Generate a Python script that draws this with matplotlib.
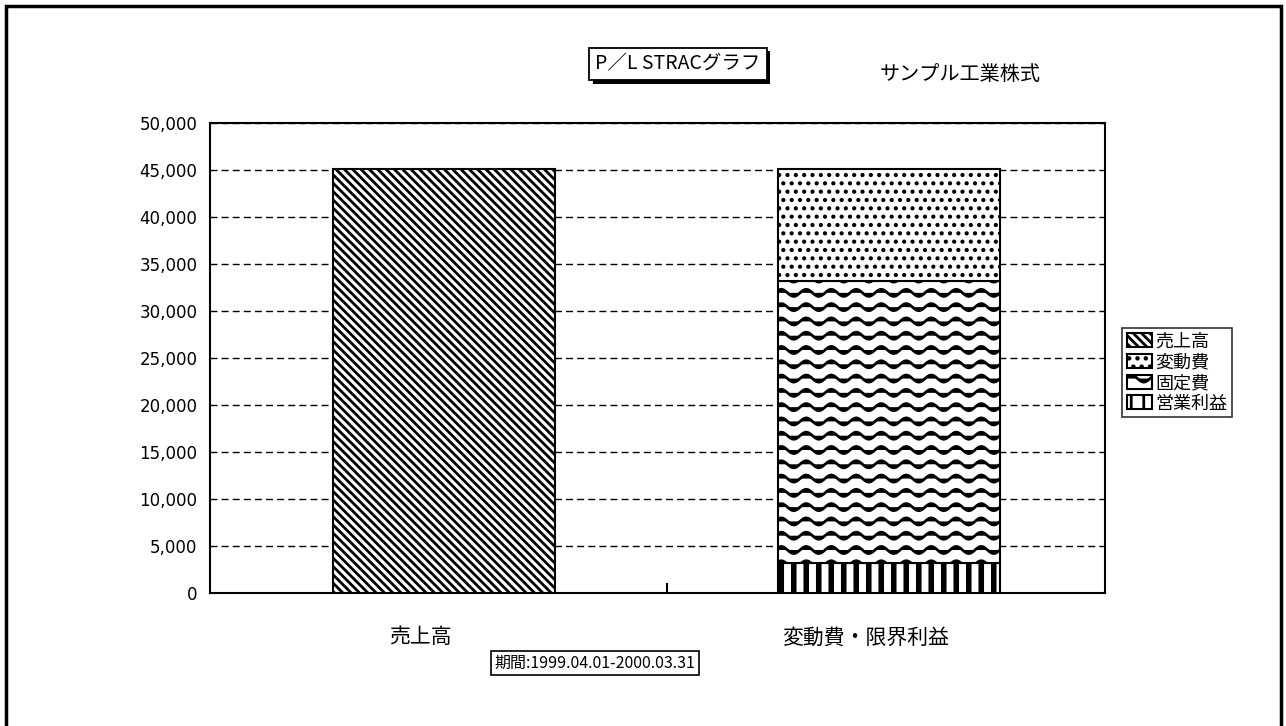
import warnings
import numpy as np
import matplotlib
matplotlib.use("Agg")
import matplotlib.pyplot as plt
import matplotlib.hatch as mhatch
import matplotlib.patheffects as pe
from matplotlib.path import Path
from matplotlib.patches import Rectangle
from matplotlib.ticker import FuncFormatter, MultipleLocator, FixedLocator
from matplotlib.transforms import ScaledTranslation

warnings.filterwarnings("ignore")

# data
categories = ['売上高', '変動費・限界利益']
sales = 45100
variable_cost = 11900
fixed_cost = 30000
op_profit = 3200
legend_labels = ['売上高', '変動費', '固定費', '営業利益']
period_text = '期間:1999.04.01-2000.03.31'
title_text = 'P／L STRACグラフ'
company_text = 'サンプル工業株式'


# extra hatch patterns: '~' wavy rows, '!' sparse vertical lines
class WaveHatch(mhatch.HatchPatternBase):
    def __init__(self, hatch, density):
        self.num_rows = hatch.count('~') * 7
        self.segs = 48
        self.num_vertices = self.num_rows * (self.segs + 1)

    def set_vertices_and_codes(self, vertices, codes):
        n = self.segs + 1
        t = np.linspace(0, 1, n)
        for i in range(self.num_rows):
            y0 = (i + 0.5) / self.num_rows
            vertices[i*n:(i+1)*n, 0] = t
            vertices[i*n:(i+1)*n, 1] = y0 + 0.25 / self.num_rows * np.sin(2 * np.pi * 4 * t)
            codes[i*n] = Path.MOVETO
            codes[i*n+1:(i+1)*n] = Path.LINETO


class SparseVertical(mhatch.HatchPatternBase):
    def __init__(self, hatch, density):
        self.num_lines = hatch.count('!') * 8
        self.num_vertices = self.num_lines * 2

    def set_vertices_and_codes(self, vertices, codes):
        xs = (np.arange(self.num_lines) + 0.5) / self.num_lines
        vertices[0::2, 0] = xs
        vertices[0::2, 1] = 0.0
        vertices[1::2, 0] = xs
        vertices[1::2, 1] = 1.0
        codes[0::2] = Path.MOVETO
        codes[1::2] = Path.LINETO


mhatch._hatch_types.append(WaveHatch)
mhatch._hatch_types.append(SparseVertical)

cjk = ['Noto Sans CJK JP', 'DejaVu Sans']
plt.rcParams['hatch.linewidth'] = 2.0

fig = plt.figure(figsize=(12.86, 7.26), dpi=100)
ax = fig.add_axes([0.1633, 0.1832, 0.696, 0.6474])

x = np.arange(len(categories))
w = 0.5
b1 = ax.bar(x[0], sales, w, color='white', edgecolor='black', lw=1.5, hatch='\\\\\\\\', zorder=3)
b4 = ax.bar(x[1], op_profit, w, color='white', edgecolor='black', lw=1.5, hatch='!', zorder=3)
b3 = ax.bar(x[1], fixed_cost, w, bottom=op_profit, color='white', edgecolor='black', lw=1.5,
            hatch='~', zorder=3)
b2 = ax.bar(x[1], variable_cost, w, bottom=op_profit + fixed_cost, color='white',
            edgecolor='black', lw=1.5, hatch='..', zorder=3)
for p in b4:
    if hasattr(p, 'set_hatch_linewidth'):
        p.set_hatch_linewidth(4)
for p in b2:
    if hasattr(p, 'set_hatch_linewidth'):
        p.set_hatch_linewidth(1.8)

ax.set_xlim(-0.526, 1.485)
ax.set_ylim(0, 50000)
ax.yaxis.set_major_locator(MultipleLocator(5000))
ax.yaxis.set_major_formatter(FuncFormatter(lambda v, _: f'{int(v):,}'))
ax.tick_params(axis='y', length=0, pad=9, labelsize=12)
ax.yaxis.grid(True, color='black', linestyle=(0, (5, 3)), lw=1)
ax.set_axisbelow(True)

ax.set_xticks(x)
ax.set_xticklabels(categories, fontsize=15, family=cjk)
ax.tick_params(axis='x', length=0, pad=24)
off = ScaledTranslation(-0.24, 0, fig.dpi_scale_trans)
for lab in ax.get_xticklabels():
    lab.set_transform(lab.get_transform() + off)
ax.xaxis.set_minor_locator(FixedLocator([0.5]))
ax.tick_params(axis='x', which='minor', direction='in', length=7, width=1.5)

for s in ax.spines.values():
    s.set_linewidth(1.5)
    s.set_color('black')

leg = fig.legend([b1[0], b2[0], b3[0], b4[0]], legend_labels,
                 loc='upper left', bbox_to_anchor=(1122 / 1286, 1 - 328 / 726),
                 prop={'family': cjk, 'size': 13}, frameon=True, fancybox=False,
                 edgecolor='black', handlelength=1.4, handleheight=0.8,
                 handletextpad=0.2, labelspacing=0.15, borderpad=0.25,
                 borderaxespad=0)
leg.get_frame().set_linewidth(1.2)

t = fig.text(678 / 1286, 1 - 64 / 726, title_text, ha='center', va='center',
             fontsize=14, family=cjk,
             bbox=dict(boxstyle='square,pad=0.3', fc='white', ec='black', lw=1.3))
t.get_bbox_patch().set_path_effects([
    pe.SimplePatchShadow(offset=(2.5, -2.5), shadow_rgbFace='black', alpha=1), pe.Normal()])

fig.text(960 / 1286, 1 - 75 / 726, company_text, ha='center', va='center',
         fontsize=14.5, family=cjk)

fig.text(595 / 1286, 1 - 663 / 726, period_text, ha='center', va='center',
         fontsize=11.5, family=cjk,
         bbox=dict(boxstyle='square,pad=0.2', fc='white', ec='black', lw=1.2))

fig.patches.append(Rectangle((6 / 1286, -0.02), (1281 - 6) / 1286, 1.02 - 6 / 726,
                             transform=fig.transFigure, fill=False, ec='black', lw=2.5))

fig.savefig('out.png', dpi=100)
